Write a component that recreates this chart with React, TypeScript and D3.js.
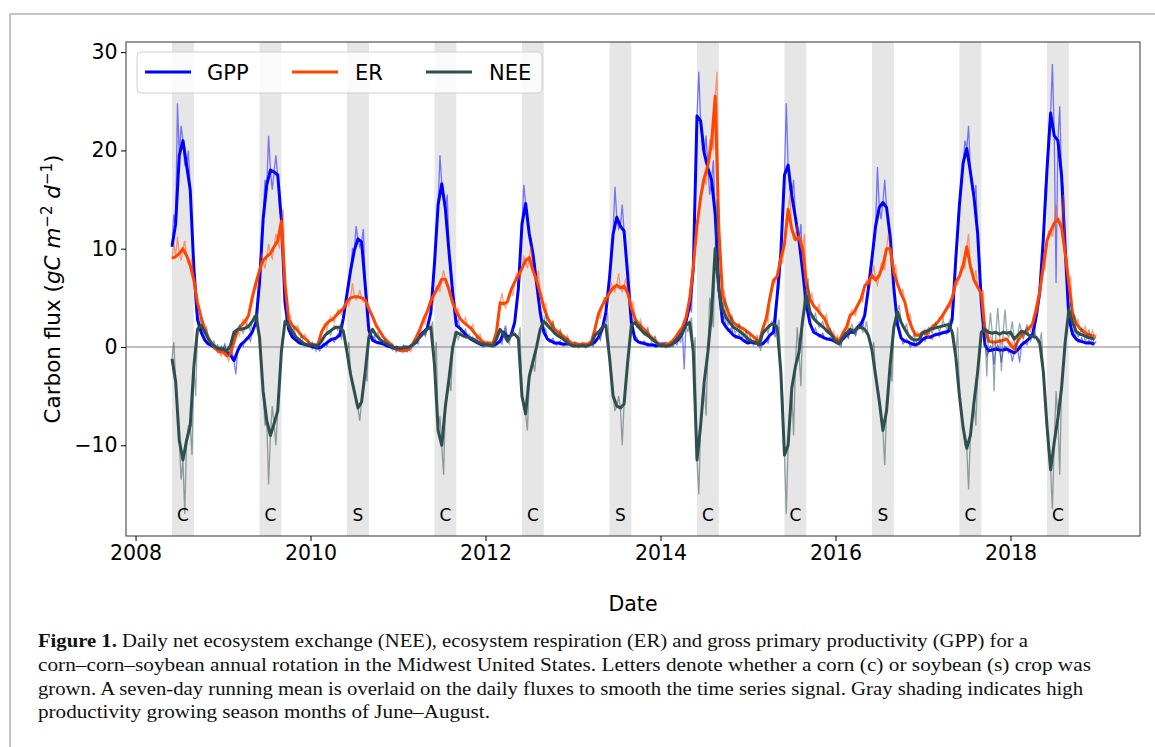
import React, { useEffect, useRef } from 'react';
import * as d3 from 'd3';

// semi-monthly samples, first row starts June 2008 (half-month index 10), then full years
const years = [2008, 2009, 2010, 2011, 2012, 2013, 2014, 2015, 2016, 2017, 2018];
const crops = ['C', 'C', 'S', 'C', 'C', 'S', 'C', 'C', 'S', 'C', 'C'];
const xTicks = [2008, 2010, 2012, 2014, 2016, 2018];
const yTicks = [-10, 0, 10, 20, 30];

// 7-day running means
const gppMean = [
  [10.2, 12.5, 19.5, 21, 18.5, 16, 8, 2.8, 1.5, 0.7, 0.3, 0.1, -0.1, -0.2],
  [-0.2, -0.5, -0.8, -1.4, -0.4, 0.3, 0.6, 1.0, 1.5, 2.5, 6.5, 13, 16.5, 18, 17.8, 17.5, 13, 4.5, 1.8, 1.0, 0.7, 0.4, 0.3, 0.2],
  [0.1, 0.0, -0.1, 0.0, 0.3, 0.6, 0.8, 0.9, 1.2, 2.9, 5.4, 7.8, 9.8, 11.0, 10.7, 6.3, 1.7, 0.7, 0.5, 0.4, 0.3, 0.1, 0.0, -0.1],
  [-0.1, -0.2, -0.3, -0.2, 0.2, 0.5, 1.2, 1.5, 1.9, 3.5, 8.5, 14.5, 16.6, 14.0, 9.6, 5.5, 2.2, 1.9, 1.5, 1.1, 0.8, 0.6, 0.4, 0.2],
  [0.3, 0.2, 0.2, 0.3, 0.6, 1.5, 1.0, 1.2, 2.5, 5.9, 12.5, 14.6, 11.5, 9.5, 6.5, 3.5, 1.5, 0.8, 0.6, 0.4, 0.4, 0.3, 0.3, 0.3],
  [0.3, 0.3, 0.2, 0.2, 0.2, 0.3, 0.5, 1.0, 1.8, 3.5, 7.0, 11.5, 13.2, 12.3, 11.8, 7.3, 2.5, 0.8, 0.5, 0.4, 0.3, 0.2, 0.2, 0.1],
  [0.3, 0.3, 0.2, 0.3, 0.5, 0.8, 1.4, 2.6, 4.2, 8.0, 23.5, 23, 19.7, 18.2, 17, 13.5, 6, 2.6, 2.0, 1.6, 1.2, 1.0, 0.9, 0.6],
  [0.4, 0.5, 0.4, 0.3, 0.3, 0.7, 1.2, 1.5, 5.2, 9.5, 17.5, 18.5, 15.4, 13.2, 10.8, 7.7, 4.3, 2.4, 1.5, 1.3, 1.1, 0.9, 0.8, 0.7],
  [0.6, 0.5, 0.8, 1.2, 1.5, 1.5, 2.0, 2.3, 3.2, 5.9, 9.0, 12.3, 14.2, 14.7, 14.2, 11.2, 6.0, 2.3, 0.9, 0.6, 0.5, 0.3, 0.2, 0.4],
  [0.8, 1.0, 1.0, 1.2, 1.3, 1.4, 1.5, 1.6, 2.8, 9.0, 14.5, 18.7, 20.2, 17.8, 15.2, 11.5, 4.5, 0.2, -0.4, -0.3, -0.2, -0.3, -0.3, -0.2],
  [-0.4, -0.6, -0.3, 0.2, 0.5, 0.8, 1.2, 3.0, 5.5, 11, 18, 23.8, 21.5, 21, 17.5, 10, 3, 1.3, 0.8, 0.6, 0.5, 0.4, 0.4, 0.3],
];
const erMean = [
  [9.0, 9.2, 9.5, 10, 9.3, 8.3, 6.8, 4.5, 3.0, 1.8, 0.9, 0.3, -0.2, -0.5],
  [-0.5, -0.9, -0.7, 0.5, 1.7, 2.2, 2.6, 3.2, 5.0, 6.5, 7.8, 8.8, 9.2, 9.5, 10.2, 10.8, 12.8, 6.5, 2.8, 2.2, 1.9, 1.4, 1.0, 0.7],
  [0.3, 0.2, 0.2, 1.5, 2.2, 2.6, 2.8, 3.2, 3.6, 3.9, 4.6, 5.0, 5.1, 5.1, 5.0, 4.8, 3.9, 3.1, 2.2, 1.6, 1.0, 0.6, 0.3, -0.1],
  [-0.3, -0.4, -0.3, -0.2, 0.3, 1.0, 1.8, 2.8, 3.6, 4.7, 5.4, 6.1, 6.9, 6.9, 5.8, 4.5, 3.6, 2.9, 2.5, 2.2, 1.9, 1.4, 1.0, 0.6],
  [0.4, 0.4, 0.3, 1.5, 4.5, 4.4, 4.6, 5.8, 6.6, 7.3, 8.0, 8.8, 9.1, 7.8, 6.8, 5.5, 4.0, 3.0, 2.3, 1.8, 1.5, 1.2, 0.9, 0.6],
  [0.3, 0.3, 0.2, 0.3, 0.3, 0.5, 1.8, 3.4, 4.2, 4.9, 5.5, 6.0, 6.3, 6.0, 6.2, 5.5, 4.0, 2.9, 2.3, 2.0, 1.6, 1.2, 0.8, 0.5],
  [0.2, 0.2, 0.3, 0.5, 0.9, 1.5, 2.0, 3.0, 4.9, 8.2, 12.3, 15.2, 17.2, 18.5, 20.8, 25.5, 12, 5.3, 4.2, 3.1, 2.5, 2.2, 2.0, 1.8],
  [1.5, 1.2, 0.9, 0.4, 1.8, 2.9, 5.0, 6.8, 7.2, 9.0, 10.5, 14.0, 12.0, 10.9, 11.2, 10.0, 6.5, 4.9, 4.2, 3.8, 3.3, 2.9, 2.0, 1.3],
  [0.8, 0.6, 1.4, 2.0, 3.2, 3.5, 4.2, 4.9, 6.2, 6.6, 7.3, 6.8, 7.3, 8.3, 10, 10, 7.6, 6.4, 5.4, 4.6, 2.9, 1.9, 1.2, 1.2],
  [1.5, 1.3, 1.8, 2.2, 2.5, 3.0, 3.6, 4.2, 5.0, 6.6, 7.2, 8.3, 10.2, 8.2, 6.8, 6.1, 5.4, 1.8, 0.6, 0.5, 0.5, 0.6, 0.7, 0.8],
  [0.2, -0.2, 0.6, 1.2, 1.5, 1.9, 2.3, 3.8, 5.6, 8.2, 10.8, 11.8, 12.6, 13, 12.2, 9.5, 6.5, 3.5, 2.4, 1.9, 1.6, 1.3, 1.2, 1.1],
];
const neeMean = [
  [-1.2, -3.5, -9.5, -11.5, -9.5, -8, -2, 1.8, 2.2, 1.5, 0.8, 0.3, 0.0, -0.2],
  [-0.2, -0.4, 0.1, 1.5, 1.8, 1.8, 1.9, 2.1, 2.6, 3.2, 1.0, -4.5, -7.5, -9, -7.8, -6.5, -0.5, 2.6, 2.2, 1.6, 1.0, 0.7, 0.4, 0.2],
  [0.2, 0.2, 0.1, 0.6, 1.2, 1.5, 1.8, 2.0, 2.0, 1.6, -0.5, -2.8, -4.5, -6.2, -5.6, -2.5, 1.0, 1.8, 1.2, 0.8, 0.5, 0.3, 0.1, -0.1],
  [-0.1, -0.1, 0.0, 0.0, 0.2, 0.6, 1.0, 1.4, 1.8, 2.0, -1.8, -8.5, -10, -6.0, -3.2, 0.0, 1.5, 1.3, 1.1, 1.0, 0.9, 0.7, 0.5, 0.3],
  [0.2, 0.2, 0.1, 0.8, 1.8, 1.3, 0.6, 1.2, 1.3, 0.9, -5, -6.8, -3.0, -1.5, 0.0, 1.8, 2.6, 2.2, 1.8, 1.4, 1.1, 0.9, 0.6, 0.3],
  [0.1, 0.1, 0.1, 0.1, 0.1, 0.3, 1.2, 1.5, 2.0, 2.2, -1.0, -5, -6.0, -6.2, -5.8, -1.5, 2.2, 2.5, 2.0, 1.6, 1.3, 1.0, 0.7, 0.4],
  [0.1, 0.1, 0.1, 0.2, 0.6, 1.0, 1.5, 2.2, 2.5, -0.5, -11.5, -8, -3.5, -0.5, 3.5, 10, 5.8, 3.9, 3.0, 2.5, 2.0, 1.8, 1.5, 1.2],
  [0.8, 0.6, 0.5, 0.2, 1.4, 1.8, 2.2, 2.4, 2.0, -2.5, -11, -10, -4.2, -2.0, -0.5, 2.8, 5.2, 3.6, 2.9, 2.5, 2.2, 1.9, 1.5, 1.2],
  [0.5, 0.3, 1.0, 1.4, 1.8, 1.6, 1.9, 2.0, 1.8, 1.2, -0.3, -2.9, -5.5, -8.5, -6.5, -1.8, 2.0, 3.6, 2.5, 1.8, 1.2, 0.8, 0.7, 0.8],
  [1.5, 1.6, 1.8, 1.9, 2.0, 2.1, 2.2, 2.3, 1.5, -1.0, -5, -8.2, -10.3, -9, -5.6, -2.5, 1.5, 1.8, 1.5, 1.4, 1.5, 1.3, 1.5, 1.4],
  [1.5, 0.8, 1.2, 1.6, 1.5, 1.2, 1.1, 1.0, 0.5, -2.5, -8, -12.5, -9.7, -7.2, -4.2, 0.5, 3.8, 2.5, 1.6, 1.3, 1.2, 1.0, 0.9, 0.8],
];

// daily values read between the running-mean samples (the thin spiky traces)
const gppDaily = [
  [13.5, 24.8, 22.5, 18.5, 20, 12, 4, 2.0, 1.2, 0.3, 0.6, -0.2, 0.2, -0.5],
  [0.3, -0.9, -0.4, -2.8, 0.2, 0.1, 1.0, 0.6, 2.2, 3.5, 11, 17, 21.5, 16, 19.5, 14, 8, 2.5, 1.3, 1.2, 0.4, 0.6, 0.1, 0.3],
  [-0.2, 0.3, -0.4, 0.4, 0.1, 0.9, 0.5, 1.3, 0.9, 4, 7, 10, 12.3, 10.2, 12, 3.5, 1.0, 1.1, 0.3, 0.6, 0.1, 0.3, -0.3, 0.1],
  [-0.3, 0.1, -0.5, 0.1, 0.5, 0.3, 1.6, 1.2, 2.5, 5.5, 12, 19.5, 15, 15.5, 8.5, 4.5, 2.8, 1.5, 1.8, 0.8, 1.0, 0.4, 0.6, 0.0],
  [0.1, 0.5, 0.0, 0.6, 0.3, 2.2, 0.7, 1.6, 4.0, 9, 16.5, 13, 11, 8.5, 5.5, 2.5, 1.8, 0.5, 0.9, 0.2, 0.6, 0.1, 0.5, 0.1],
  [0.5, 0.1, 0.4, 0.0, 0.4, 0.1, 0.8, 0.7, 2.5, 5, 9.5, 16.3, 12, 14.5, 9.5, 4.5, 1.2, 1.0, 0.3, 0.6, 0.1, 0.4, 0.0, 0.3],
  [0.1, 0.5, 0.0, 0.6, 0.2, 1.1, -2.3, 3.2, 3.5, 16, 28, 20, 21.5, 15.5, 19, 11, 4, 3.2, 1.6, 2.0, 0.9, 1.3, 0.6, 0.8],
  [0.7, 0.2, 0.6, 0.1, 0.5, 0.4, 1.5, 1.0, 6, 13, 24.8, 16, 17, 12, 12.5, 6.5, 5.5, 2.0, 1.9, 1.0, 1.4, 0.7, 1.0, 0.5],
  [0.9, 0.3, 1.1, 0.9, 1.8, 1.2, 2.3, 2.0, 4.5, 8, 11, 18.3, 13, 17, 12.5, 9, 4.0, 1.4, 0.3, 0.8, 0.0, 0.6, 0.4, 0.9],
  [0.6, 1.2, 0.8, 1.4, 1.1, 1.6, 1.3, 1.9, 4.5, 11, 17, 21, 22.5, 16, 16.5, 9, 1.5, -0.9, 0.1, -1.8, 0.2, -1.6, 0.1, -0.6],
  [-1.5, -0.2, -1.6, 0.6, 0.2, 1.3, 0.9, 4.5, 8, 16, 22, 28.8, 6.5, 24.5, 16, 8, 2.5, 1.8, 0.5, 0.9, 0.3, 0.7, 0.2, 0.6],
];
const erDaily = [
  [10.5, 11.2, 8.8, 10.8, 8.5, 9, 5.5, 3.8, 2.5, 1.2, 0.6, 0.0, -0.6, -0.9],
  [-0.2, -1.4, -0.4, 1.0, 1.2, 2.8, 2.2, 4, 6, 5.8, 9.5, 8, 10.5, 9, 11.5, 10, 14, 4.5, 3.2, 1.8, 2.2, 1.0, 1.3, 0.4],
  [0.5, 0.0, 0.4, 1.8, 1.8, 3.1, 2.5, 3.8, 3.3, 4.5, 4.2, 6.5, 4.8, 5.8, 4.6, 4.2, 3.4, 2.7, 1.9, 1.5, 0.8, 0.6, -0.1, -0.4],
  [-0.1, -0.6, -0.1, -0.5, 0.7, 0.8, 2.4, 2.4, 4.2, 4.1, 6.2, 5.6, 7.8, 6.5, 5.2, 4.2, 3.9, 2.6, 3.0, 1.9, 2.3, 1.1, 1.3, 0.3],
  [0.6, 0.2, 0.6, 2.5, 5.5, 4.0, 5.4, 5.2, 7.5, 6.8, 9.2, 8.0, 10.3, 7.2, 7.8, 4.8, 4.5, 2.6, 2.7, 1.5, 1.8, 0.9, 1.2, 0.4],
  [0.5, 0.1, 0.5, 0.1, 0.6, 1.2, 2.5, 3.0, 5.0, 4.5, 6.5, 5.6, 7.5, 5.6, 7.0, 4.8, 4.6, 2.5, 2.8, 1.7, 2.0, 0.9, 1.1, 0.3],
  [0.4, 0.0, 0.5, 0.3, 1.2, 1.2, 2.6, 3.6, 5.5, 10, 13.5, 17, 16.5, 21, 20, 28, 9, 5.8, 3.0, 3.3, 2.0, 2.4, 1.3, 1.6],
  [1.5, 0.8, 1.2, 0.2, 2.4, 2.5, 6.2, 6.5, 8.5, 8.5, 12, 15.5, 11, 12.5, 10, 11.5, 6, 5.5, 3.8, 4.3, 2.9, 3.3, 1.7, 1.6],
  [1.2, 0.3, 1.9, 1.7, 3.8, 3.2, 4.8, 4.6, 6.8, 6.2, 8.3, 6.3, 8.5, 7.8, 11.5, 9.3, 8.4, 5.9, 5.9, 4.0, 3.3, 1.6, 1.5, 1.0],
  [1.8, 1.0, 2.2, 2.0, 3.0, 2.8, 4.2, 4.0, 5.6, 6.3, 8.2, 8.0, 11.5, 8.0, 7.8, 5.8, 5.8, 1.2, 1.1, 0.2, 0.8, 0.3, 1.0, 0.5],
  [0.5, -0.5, 1.0, 0.9, 2.0, 1.6, 2.8, 3.5, 6.3, 7.8, 11.8, 11.2, 14.5, 12.2, 15.5, 9.0, 7.2, 3.0, 2.8, 1.6, 2.1, 1.0, 1.7, 0.8],
];
const neeDaily = [
  [0.5, -7, -13.5, -17, -8, -11, -5, 3, 1.6, 2.0, 0.4, 0.6, -0.3, 0.1],
  [0.1, -0.8, 0.5, 1.2, 2.2, 1.4, 2.3, 1.6, 3.2, 3.6, -1.5, -8, -14, -6, -10, -3, 1.5, 3.5, 1.8, 2.0, 1.0, 1.2, 0.4, 0.6],
  [0.4, -0.4, 0.3, 0.9, 1.6, 1.2, 2.2, 1.7, 2.5, 1.0, 0.5, -4, -5.5, -7.5, -4.5, -3.5, 1.8, 1.3, 1.5, 0.6, 0.8, 0.1, 0.3, -0.5],
  [-0.3, 0.2, -0.2, 0.3, 0.5, 0.9, 1.4, 1.1, 2.3, 2.6, 0.5, -7, -13, -4.5, -4.5, 1.5, 0.8, 1.8, 0.9, 1.3, 0.7, 1.0, 0.3, 0.5],
  [0.4, 0.0, 0.3, 1.5, 1.2, 1.9, 0.3, 1.8, 1.0, 2.0, -6, -8.5, -2, -2.5, 1.2, 2.5, 3.3, 1.8, 2.6, 1.1, 1.6, 0.6, 0.9, 0.1],
  [0.3, -0.1, 0.3, -0.1, 0.3, 0.2, 1.6, 1.0, 2.5, 3.5, -2.5, -6.5, -5, -10, -4, 0.5, 2.8, 2.0, 2.4, 1.2, 1.8, 0.6, 1.0, 0.2],
  [0.3, -0.1, 0.3, 0.0, 0.9, 0.4, 2.2, 1.5, 3.0, 1.0, -15, -5, -7, 5, 2, 15, 3.5, 4.6, 2.2, 3.2, 1.4, 2.3, 1.0, 1.6],
  [1.2, 0.4, 0.9, -0.4, 1.8, 1.4, 2.6, 2.0, 2.8, -5, -17, -6, -9, 2, -4, 6, 7, 3.0, 3.4, 2.0, 2.6, 1.5, 1.9, 0.8],
  [0.8, 0.0, 1.5, 1.0, 2.3, 1.2, 2.5, 1.5, 2.6, 0.5, 0.5, -4.5, -7, -12, -5, -3.5, 3.5, 4.3, 2.0, 2.4, 0.8, 1.3, 0.2, 1.4],
  [1.2, 2.0, 1.4, 2.5, 1.6, 2.7, 1.8, 2.9, 1.2, 2.0, -6.5, -10, -14.5, -7.5, -8, 0, 2.6, -3, 3.5, -4.5, 4.0, -2.5, 3.8, 1.0],
  [2.6, -0.5, 2.4, 0.8, 2.3, 0.6, 1.8, 0.4, 1.5, -4.5, -11, -16.5, -4.5, -13, -2, 1.5, 4.5, 3.3, 1.0, 2.0, 0.6, 1.8, 0.4, 1.3],
];

const captionLines = [
  'Daily net ecosystem exchange (NEE), ecosystem respiration (ER) and gross primary productivity (GPP) for a',
  'corn–corn–soybean annual rotation in the Midwest United States. Letters denote whether a corn (c) or soybean (s) crop was',
  'grown. A seven-day running mean is overlaid on the daily fluxes to smooth the time series signal. Gray shading indicates high',
  'productivity growing season months of June–August.',
];

const W = 1155;
const H = 747;
const M = { left: 126, right: 1140, top: 42, bottom: 536 };
const FONT = 'DejaVu Sans, sans-serif';

const series = [
  { name: 'GPP', color: '#0000ff', mean: gppMean, daily: gppDaily },
  { name: 'ER', color: '#ff4500', mean: erMean, daily: erDaily },
  { name: 'NEE', color: '#2f4f4f', mean: neeMean, daily: neeDaily },
];

// decimal year for each half-month sample
const times = years.flatMap((yr, k) =>
  gppMean[k].map((_, j) => yr + (j + (k === 0 ? 10 : 0)) / 24)
);

const App = () => {
  const xAxisRef = useRef(null);
  const yAxisRef = useRef(null);

  const x = d3.scaleLinear().domain([2007.891, 2019.48]).range([M.left, M.right]);
  const y = d3.scaleLinear().domain([-19.23, 31.03]).range([M.bottom, M.top]);

  const line = d3
    .line<[number, number]>()
    .x((d) => x(d[0]))
    .y((d) => y(d[1]));

  useEffect(() => {
    const xa = d3.select(xAxisRef.current);
    xa.call(d3.axisBottom(x).tickValues(xTicks).tickFormat(d3.format('d')).tickSize(5).tickPadding(4));
    const ya = d3.select(yAxisRef.current);
    ya.call(d3.axisLeft(y).tickValues(yTicks).tickFormat(d3.format('d')).tickSize(5).tickPadding(3.5));
    [xa, ya].forEach((g) => {
      g.select('.domain').remove();
      g.selectAll('text').attr('font-size', 20.5).attr('font-family', FONT).attr('fill', '#000');
      g.selectAll('line').attr('stroke', '#000').attr('stroke-width', 1);
    });
  }, []);

  const meanPts = (s) => {
    const v = s.mean.flat();
    return times.map((t, i) => [t, v[i]] as [number, number]);
  };
  const dailyPts = (s) => {
    const v = s.mean.flat();
    const d = s.daily.flat();
    return times.flatMap((t, i) => [[t, v[i]], [t + 1 / 48, d[i]]] as [number, number][]);
  };

  const legendItems = [
    { lx: 145, tx: 207 },
    { lx: 292, tx: 355 },
    { lx: 426, tx: 489 },
  ];

  return (
    <svg width={W} height={H} style={{ position: 'absolute', left: 0, top: 0, background: '#fff' }}>
      <defs>
        <clipPath id="plotclip">
          <rect x={M.left} y={M.top} width={M.right - M.left} height={M.bottom - M.top} />
        </clipPath>
      </defs>
      {/* page frame */}
      <line x1={10} y1={14} x2={W} y2={14} stroke="#c4c4c4" strokeWidth={2} />
      <line x1={10} y1={14} x2={10} y2={H} stroke="#c4c4c4" strokeWidth={2} />

      <g clipPath="url(#plotclip)">
        {years.map((yr) => (
          <rect key={yr} x={x(yr + 5 / 12)} y={M.top} width={x(yr + 8 / 12) - x(yr + 5 / 12)}
            height={M.bottom - M.top} fill="gray" opacity={0.2} />
        ))}
        <line x1={M.left} x2={M.right} y1={y(0)} y2={y(0)} stroke="gray" strokeWidth={1} />
        {series.map((s) => (
          <g key={s.name}>
            <path d={line(dailyPts(s)) || ''} fill="none" stroke={s.color} strokeWidth={1.3} strokeOpacity={0.5} />
            <path d={line(meanPts(s)) || ''} fill="none" stroke={s.color} strokeWidth={3} strokeLinejoin="round" />
          </g>
        ))}
        {years.map((yr, i) => (
          <text key={'c' + yr} x={x(yr + 6.5 / 12)} y={M.bottom - 15} textAnchor="middle"
            fontFamily={FONT} fontSize={17}>{crops[i]}</text>
        ))}
      </g>

      <rect x={M.left} y={M.top} width={M.right - M.left} height={M.bottom - M.top}
        fill="none" stroke="#333" strokeWidth={1} />
      <g ref={xAxisRef} transform={`translate(0,${M.bottom})`} />
      <g ref={yAxisRef} transform={`translate(${M.left},0)`} />

      {/* legend */}
      <rect x={137} y={52} width={405} height={41} rx={4} fill="#fff" fillOpacity={0.8} stroke="#d0d0d0" />
      {series.map((s, i) => (
        <g key={'l' + s.name}>
          <line x1={legendItems[i].lx} x2={legendItems[i].lx + 46} y1={72} y2={72} stroke={s.color} strokeWidth={3} />
          <text x={legendItems[i].tx} y={80} fontFamily={FONT} fontSize={21}>{s.name}</text>
        </g>
      ))}

      {/* axis labels */}
      <text x={633} y={611} textAnchor="middle" fontFamily={FONT} fontSize={20.5}>Date</text>
      <text transform={`translate(60,${(M.top + M.bottom) / 2}) rotate(-90)`} textAnchor="middle"
        fontFamily={FONT} fontSize={21.5}>
        <tspan>Carbon flux (</tspan>
        <tspan fontStyle="italic">gC m</tspan>
        <tspan fontSize={15} dy={-8.5}>−2</tspan>
        <tspan dy={8.5}> </tspan>
        <tspan fontStyle="italic">d</tspan>
        <tspan fontSize={15} dy={-8.5}>−1</tspan>
        <tspan dy={8.5}>)</tspan>
      </text>

      {/* caption */}
      <g fontFamily="Liberation Serif, serif" fontSize={19} fill="#111">
        <text x={38} y={647} textLength={990} lengthAdjust="spacingAndGlyphs">
          <tspan fontWeight="bold">Figure 1.</tspan> {captionLines[0]}
        </text>
        <text x={38} y={671} textLength={1053} lengthAdjust="spacingAndGlyphs">{captionLines[1]}</text>
        <text x={38} y={695} textLength={1045} lengthAdjust="spacingAndGlyphs">{captionLines[2]}</text>
        <text x={38} y={718} textLength={452} lengthAdjust="spacingAndGlyphs">{captionLines[3]}</text>
      </g>
    </svg>
  );
};

export default App;
